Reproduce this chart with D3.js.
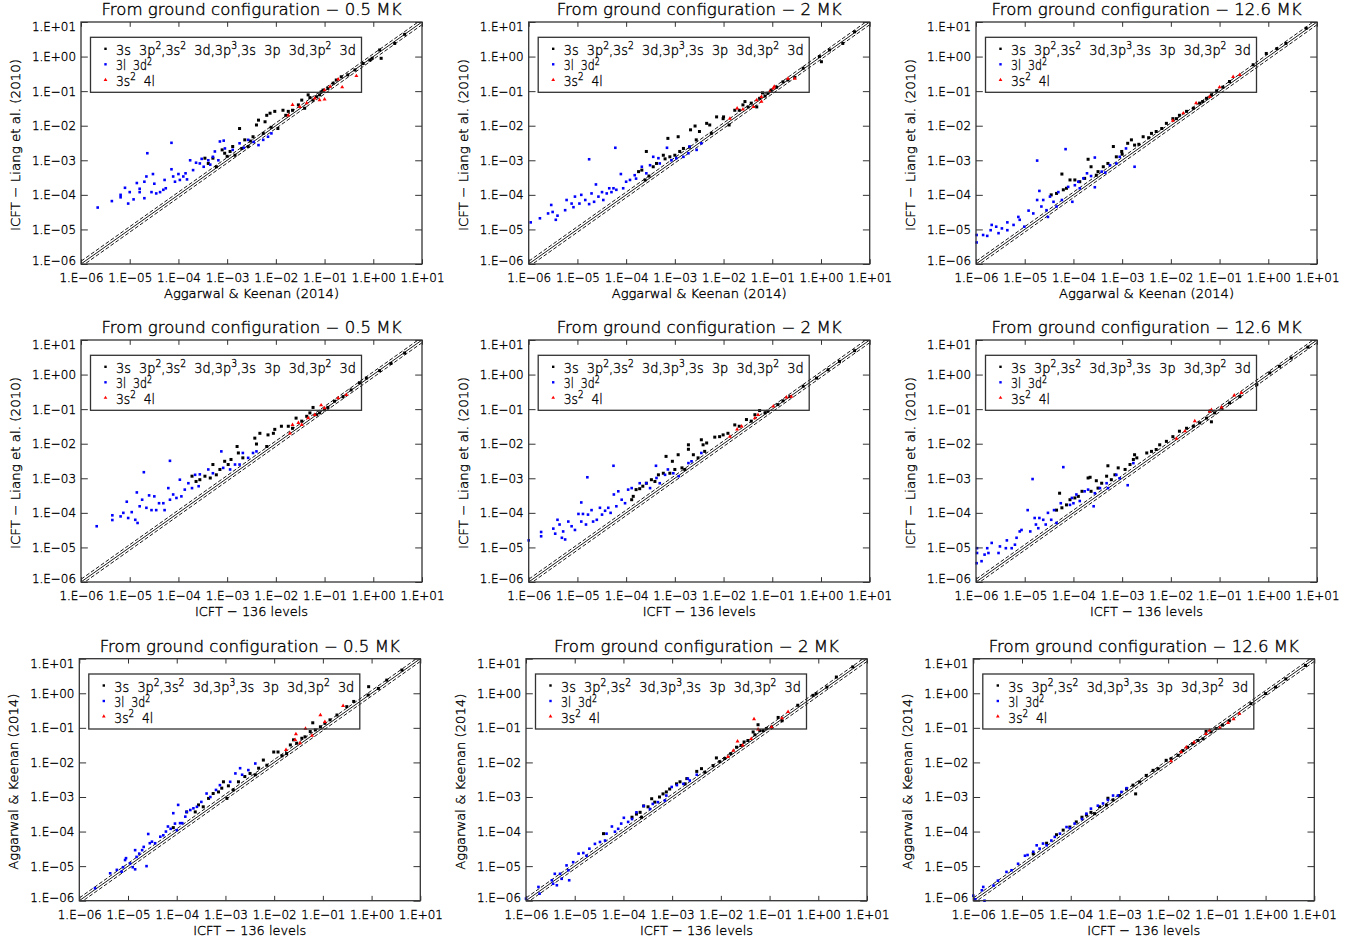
<!DOCTYPE html>
<html><head><meta charset="utf-8">
<script src="https://cdn.jsdelivr.net/npm/d3@7"></script>
<style>
body{margin:0;background:#fff}
svg text{font-family:"DejaVu Sans",sans-serif;fill:#000;font-weight:300;stroke:#000;stroke-width:0.35px}
</style>
</head><body>
<svg id="chart" width="1365" height="944"></svg>
<script>
// ---------------- axis / text data ----------------
const tickValues = [1e-6, 1e-5, 1e-4, 1e-3, 1e-2, 1e-1, 1e0, 1e1];
const tickLabels = ["1.E\u221206","1.E\u221205","1.E\u221204","1.E\u221203","1.E\u221202","1.E\u221201","1.E+00","1.E+01"];
const columnTitles = ["From ground configuration \u2212 0.5 MK","From ground configuration \u2212 2 MK","From ground configuration \u2212 12.6 MK"];
const rowXTitles = ["Aggarwal & Keenan (2014)","ICFT \u2212 136 levels","ICFT \u2212 136 levels"];
const rowYTitles = ["ICFT \u2212 Liang et al. (2010)","ICFT \u2212 Liang et al. (2010)","Aggarwal & Keenan (2014)"];
const seriesNames = ["3s  3p^2,3s^2  3d,3p^3,3s  3p  3d,3p^2  3d","3l  3d^2","3s^2  4l"];
const seriesColors = ["#000000","#0000ff","#ff0000"];
const bandFactor = 1.2;

// ---------------- panel data: [x, y] ----------------
// Row 1, 0.5 MK
const p1Black = [[3.5e-4,1.15e-3],[4.1e-4,8.1e-4],[5.1e-4,1.15e-3],[6e-4,6.5e-4],[7.9e-4,2e-3],[8.9e-4,1.6e-3],[1.15e-3,1.8e-3],[1.3e-3,2.5e-3],[1.45e-3,1.4e-3],[1.8e-3,8.3e-3],[2.3e-3,3.9e-3],[2.7e-3,2.5e-3],[3.4e-3,4.8e-3],[4e-3,1.05e-2],[4.4e-3,1.45e-2],[5.5e-3,6e-3],[6.5e-3,2.0e-2],[7.6e-3,2.3e-2],[9.5e-3,2.6e-2],[1.1e-2,8.3e-3],[1.4e-2,2.8e-2],[1.8e-2,2.6e-2],[2.2e-2,2.8e-2],[2.9e-2,4e-2],[3.4e-2,5.5e-2],[3.9e-2,3.2e-2],[4.6e-2,7.8e-2],[5.8e-2,5.5e-2],[6.8e-2,6.9e-2],[7.9e-2,7.8e-2],[9.3e-2,1.07e-1],[1.17e-1,1.2e-1],[1.5e-1,1.7e-1],[1.74e-1,2.1e-1],[2.2e-1,2.6e-1],[3e-1,2.95e-1],[4.2e-1,4.1e-1],[6.2e-1,6.3e-1],[8.5e-1,7.9e-1],[9.5e-1,8.9e-1],[1.35,1.55],[1.45,0.89],[2.75,2.4],[4.4,4.4],[1.0e-3,1.3e-3],[2.0e-3,2.2e-3],[3.0e-3,3.6e-3],[8e-3,9e-3],[6e-3,1.3e-2],[1.6e-2,2e-2],[5e-2,6.5e-2],[8.5e-2,9.5e-2]];
const p1Blue = [[2.2e-6,4.3e-5],[4.3e-6,6.6e-5],[6.5e-6,1.0e-4],[6.5e-6,8.5e-5],[8e-6,1.6e-4],[9.3e-6,5.6e-5],[1.0e-5,1.2e-4],[1.2e-5,7.4e-5],[1.4e-5,2.2e-4],[1.6e-5,1.2e-4],[1.6e-5,1.5e-4],[2.0e-5,8e-5],[2.3e-5,1.6e-3],[2.0e-5,2.4e-4],[2.2e-5,3.4e-4],[2.8e-5,1.2e-4],[3.0e-5,4e-4],[3.2e-5,2.1e-4],[3.5e-5,1.1e-4],[4.2e-5,1.2e-4],[4.9e-5,1.4e-4],[5.5e-5,1.55e-4],[5.2e-5,2.7e-4],[7.2e-5,3.2e-3],[7.2e-5,5.5e-4],[7.8e-5,3.4e-4],[8.5e-5,2.4e-4],[1.0e-4,4e-4],[1.07e-4,2.7e-4],[1.26e-4,3.4e-4],[1.4e-4,4.2e-4],[1.74e-4,1.0e-3],[2.0e-4,5.2e-4],[2.3e-4,8.5e-4],[2.75e-4,8.1e-4],[3.3e-4,6.5e-4],[4.1e-4,1.0e-3],[5.1e-4,1.26e-3],[5.6e-4,1.8e-3],[6.6e-4,1.0e-3],[7.1e-4,3.5e-3],[8.5e-4,3.7e-3],[1.3e-3,2.0e-3],[1.8e-3,3.1e-3],[2.7e-3,3.9e-3],[4.4e-3,2.75e-3],[5.5e-3,3.9e-3],[6.9e-3,4.8e-3],[8.1e-3,6.0e-3],[1.5e-4,2.8e-4],[3e-4,1.1e-3],[4.5e-4,7.5e-4],[9e-4,2.2e-3],[2.2e-3,2.3e-3],[3.5e-3,3.4e-3]];
const p1Red = [[1.8e-2,2.0e-2],[2.2e-2,4e-2],[3.1e-2,3.5e-2],[4.3e-2,4.5e-2],[6.3e-2,6.2e-2],[7.9e-2,5.5e-2],[1.0e-1,5.8e-2],[1.3e-1,1.35e-1],[1.9e-1,2.2e-1],[2.3e-1,1.3e-1],[4.5e-1,2.75e-1],[1e-1,1.07e-1]];
// Row 1, 2 MK
const p2Black = [[1.8e-4,4.7e-4],[2.1e-4,5.2e-4],[2.6e-4,1.8e-3],[2.45e-4,2.7e-4],[2.95e-4,3.5e-4],[3.6e-4,6.5e-4],[4.2e-4,8.1e-4],[5.8e-4,1.4e-3],[7.2e-4,4.3e-3],[7.9e-4,1.26e-3],[1.0e-3,1.4e-3],[1.17e-3,4.8e-3],[1.26e-3,1.8e-3],[1.5e-3,2.2e-3],[2.1e-3,7.6e-3],[2.6e-3,9.8e-3],[2.75e-3,3.9e-3],[3.2e-3,6.8e-3],[4.5e-3,1.17e-2],[5.2e-3,1.05e-2],[5.6e-3,6e-3],[7.2e-3,1.8e-2],[9.8e-3,1.6e-2],[1.3e-2,1.05e-2],[1.7e-2,2.8e-2],[2.1e-2,2.8e-2],[2.75e-2,5e-2],[3.2e-2,3.5e-2],[3.7e-2,4.5e-2],[4.8e-2,3.5e-2],[5.5e-2,6.2e-2],[7.1e-2,7.2e-2],[8.1e-2,8.7e-2],[9.5e-2,1.07e-1],[1.23e-1,1.3e-1],[1.66e-1,1.86e-1],[2.1e-1,2.1e-1],[2.9e-1,2.5e-1],[4.3e-1,4.6e-1],[9.3e-1,1.0],[1.02,0.71],[1.5,1.55],[2.8,2.4],[4.9,5.2],[6.3e-4,1.1e-3],[2.0e-3,2.4e-3],[1.0e-2,1.8e-2],[2.5e-2,4e-2],[6.3e-2,8.9e-2]];
const p2Blue = [[1.1e-6,1.6e-5],[1.7e-6,2.1e-5],[2.5e-6,2.9e-5],[2.9e-6,5.1e-5],[3.1e-6,3.2e-5],[3.6e-6,1.9e-5],[3.9e-6,2.5e-5],[5.6e-6,3.6e-5],[6e-6,7.1e-5],[7.6e-6,5.6e-5],[8.3e-6,4.4e-5],[8.9e-6,8.9e-5],[1.1e-5,5.6e-5],[1.2e-5,1.0e-4],[1.45e-5,7.1e-5],[1.74e-5,1.07e-3],[1.74e-5,5.4e-5],[1.95e-5,1.1e-4],[2.2e-5,6.3e-5],[2.4e-5,2.0e-4],[2.7e-5,8.9e-5],[3.2e-5,1.2e-4],[3.4e-5,7.1e-5],[4e-5,1.1e-4],[4.5e-5,1.55e-4],[5e-5,1.2e-4],[5.5e-5,1.55e-4],[6e-5,2.3e-3],[6.3e-5,1.4e-4],[7.8e-5,4e-4],[8.7e-5,1.55e-4],[1.0e-4,2.4e-4],[1.2e-4,2.7e-4],[1.5e-4,3.7e-4],[1.6e-4,2.95e-4],[2.1e-4,6.5e-4],[2.6e-4,4.2e-4],[3.1e-4,7.2e-4],[3.6e-4,1.26e-3],[4.6e-4,1.15e-3],[4.9e-4,8.1e-4],[6.9e-4,2.3e-3],[8.5e-4,1.0e-3],[1.07e-3,1.15e-3],[1.5e-3,1.26e-3],[1.9e-3,1.6e-3],[2.0e-3,2.5e-3],[2.8e-3,2.0e-3],[3.5e-3,3.1e-3]];
const p2Red = [[1.35e-2,1.6e-2],[1.9e-2,3.2e-2],[2.5e-2,3e-2],[4.1e-2,3.5e-2],[4.8e-2,5.5e-2],[6e-2,6.9e-2],[8.9e-2,9.5e-2],[1.05e-1,1.2e-1],[1.1e-1,1.35e-1],[2.1e-1,2.3e-1],[2.9e-1,2.3e-1],[6e-2,5e-2]];
// Row 1, 12.6 MK
const p3Black = [[3.5e-5,1.0e-4],[4.5e-5,1.1e-4],[5.8e-5,4e-4],[6.2e-5,1.4e-4],[7.2e-5,1.55e-4],[8.5e-5,2.7e-4],[1.07e-4,2.7e-4],[1.35e-4,2.4e-4],[1.7e-4,3e-4],[2e-4,1.07e-3],[2.3e-4,6.5e-4],[2.95e-4,3.7e-4],[3.2e-4,4.7e-4],[4.1e-4,6.5e-4],[5.1e-4,8.1e-4],[6.6e-4,2.5e-3],[7.6e-4,1.26e-3],[9.8e-4,1.8e-3],[1.3e-3,3.1e-3],[1.55e-3,3.9e-3],[1.8e-3,2.75e-3],[2.7e-3,4.8e-3],[4e-3,6e-3],[5e-3,6.8e-3],[6.5e-3,8.3e-3],[8.1e-3,1.17e-2],[1.1e-2,1.6e-2],[1.5e-2,2.0e-2],[2.1e-2,2.6e-2],[2.9e-2,3.2e-2],[3.9e-2,4.5e-2],[5.4e-2,6.2e-2],[6.8e-2,7.8e-2],[8.7e-2,1.02e-1],[1.17e-1,1.3e-1],[1.6e-1,1.9e-1],[4.9e-1,5.8e-1],[9.1e-1,1.23],[1.5,1.7],[2.3,2.4],[6,6.6],[1.0e-3,1.5e-3],[2.2e-3,2.9e-3],[3.5e-3,4.5e-3],[1.3e-2,1.6e-2],[4.5e-2,5e-2]];
const p3Blue = [[1.03e-6,4.2e-6],[1.03e-6,6.9e-6],[1.4e-6,6.9e-6],[1.7e-6,6.5e-6],[2e-6,9.5e-6],[2.1e-6,1.35e-5],[2.6e-6,1.2e-5],[2.9e-6,7.8e-6],[3.4e-6,1.07e-5],[4.4e-6,1.6e-5],[4.4e-6,9.5e-6],[5.9e-6,1.35e-5],[7.4e-6,2.3e-5],[7.9e-6,1.9e-5],[9.8e-6,1.2e-5],[1.2e-5,3.5e-5],[1.5e-5,2.9e-5],[1.8e-5,9.8e-4],[2e-5,1.3e-4],[1.8e-5,7.1e-5],[2.2e-5,4.6e-5],[2.4e-5,7.1e-5],[2.8e-5,3.6e-5],[3e-5,2.3e-5],[3.3e-5,8.9e-5],[3.9e-5,6.3e-5],[4.5e-5,4.6e-5],[4.9e-5,1.2e-4],[5.8e-5,7.1e-5],[6.9e-5,2.1e-3],[7.8e-5,1.7e-4],[9.5e-5,6.3e-5],[1.07e-4,1.9e-4],[1.26e-4,2.4e-4],[1.35e-4,1.55e-4],[1.6e-4,3e-4],[1.9e-4,4.2e-4],[2.3e-4,3.5e-4],[2.75e-4,1.2e-3],[2.75e-4,1.66e-4],[3.8e-4,4.7e-4],[4.5e-4,4.4e-4],[5.6e-4,7.2e-4],[7.6e-4,8.1e-4],[8.9e-4,1.26e-3],[1.2e-3,2.2e-3],[1.8e-3,6.5e-4]];
const p3Red = [[1.1e-2,1.4e-2],[1.8e-2,2.3e-2],[3.3e-2,4.5e-2],[6.3e-2,6.9e-2],[1e-1,1.3e-1],[1.9e-1,2.6e-1],[2.6e-1,2.95e-1]];
// Row 2, 0.5 MK
const p4Black = [[1.9e-4,1.15e-3],[2.3e-4,8.1e-4],[2.75e-4,9.1e-4],[3.5e-4,1.15e-3],[4.5e-4,1.02e-3],[5.1e-4,2.5e-3],[6e-4,1.26e-3],[7.1e-4,1.8e-3],[8.9e-4,3.1e-3],[1.05e-3,2.5e-3],[1.2e-3,3.5e-3],[1.6e-3,8.3e-3],[1.7e-3,5.4e-3],[2.1e-3,3.9e-3],[3.7e-3,1.45e-2],[4e-3,9.8e-3],[4.7e-3,2e-2],[6.5e-3,8.3e-3],[6.9e-3,1.8e-2],[8.9e-3,2e-2],[9.5e-3,2.6e-2],[1.3e-2,3.2e-2],[1.8e-2,3.2e-2],[2.2e-2,2.8e-2],[2.6e-2,5.5e-2],[3.4e-2,4.5e-2],[4.3e-2,6.2e-2],[5e-2,7.8e-2],[5.8e-2,1.12e-1],[6.8e-2,6.9e-2],[7.9e-2,7.8e-2],[1e-1,9.5e-2],[1.17e-1,1.12e-1],[1.6e-1,1.7e-1],[2.4e-1,2.3e-1],[3.5e-1,3.6e-1],[5.2e-1,5.8e-1],[7.2e-1,7.9e-1],[1.35,1.3],[2.3,2.1],[4.4,4.2]];
const p4Blue = [[2.1e-6,4.1e-5],[4.4e-6,8.5e-5],[4.4e-6,6.2e-5],[6.5e-6,7.9e-5],[7.4e-6,1e-4],[8.7e-6,2.1e-4],[9.3e-6,7.1e-5],[1.1e-5,1.05e-4],[1.3e-5,6.3e-5],[1.4e-5,3.9e-4],[1.45e-5,5.1e-5],[1.6e-5,1.55e-4],[1.8e-5,2.4e-4],[1.95e-5,1.5e-3],[2.2e-5,1.4e-4],[2.5e-5,3.2e-4],[2.8e-5,1.2e-4],[3.2e-5,3e-4],[3.5e-5,1.2e-4],[4e-5,1.9e-4],[4.9e-5,1.9e-4],[5.2e-5,1.2e-4],[6.2e-5,5.2e-4],[6.7e-5,3.2e-3],[6.7e-5,2.4e-4],[7.8e-5,3.4e-4],[9.1e-5,2.7e-4],[1.07e-4,9.1e-4],[1.15e-4,3e-4],[1.35e-4,4.7e-4],[1.6e-4,7.2e-4],[1.9e-4,5.2e-4],[2.2e-4,1.26e-3],[2.6e-4,5.9e-4],[2.75e-4,1.3e-3],[4.1e-4,1.8e-3],[5.1e-4,1.4e-3],[7.6e-4,6e-3],[8.3e-4,2e-3],[1.15e-3,1.8e-3],[1.45e-3,2.5e-3],[1.8e-3,2.5e-3],[2.1e-3,5.4e-3],[2.7e-3,3.9e-3],[3.4e-3,5.4e-3],[4e-3,6e-3]];
const p4Red = [[1.95e-2,2e-2],[2.2e-2,3.5e-2],[2.9e-2,4e-2],[3.4e-2,3.5e-2],[4.6e-2,5.5e-2],[6.3e-2,6.9e-2],[8.5e-2,1.3e-1],[1e-1,1.07e-1],[1.9e-1,2.1e-1],[2.8e-1,2.6e-1]];
// Row 2, 2 MK
const p5Black = [[1.3e-4,2.4e-4],[1.4e-4,3e-4],[1.6e-4,4.7e-4],[1.9e-4,5e-4],[2.2e-4,5.9e-4],[2.6e-4,7.2e-4],[3.3e-4,9.1e-4],[3.9e-4,8.1e-4],[4.6e-4,1.26e-3],[5.8e-4,1.4e-3],[6.6e-4,4.3e-3],[7.9e-4,1.4e-3],[8.9e-4,3.1e-3],[1e-3,1.8e-3],[1.17e-3,4.8e-3],[1.4e-3,2e-3],[1.6e-3,1.8e-3],[1.9e-3,9.3e-3],[1.9e-3,6.9e-3],[2.4e-3,4.8e-3],[3e-3,3.9e-3],[3.5e-3,1.3e-2],[3.8e-3,9.3e-3],[4.5e-3,1.05e-2],[4.1e-3,6e-3],[6.6e-3,1.55e-2],[8.3e-3,1.6e-2],[9.8e-3,1.8e-2],[1.23e-2,2e-2],[1.7e-2,3.5e-2],[2.1e-2,3.2e-2],[2.95e-2,5e-2],[3.7e-2,4.5e-2],[4.4e-2,6.9e-2],[5.5e-2,9.1e-2],[7.1e-2,7.8e-2],[8.1e-2,8.7e-2],[1.3e-1,1.35e-1],[1.66e-1,1.74e-1],[2.3e-1,2.3e-1],[4.3e-1,4.6e-1],[8.1e-1,7.9e-1],[1.4,1.38],[2.4,2.4],[4.9,4.9]];
const p5Blue = [[1.0e-6,1.6e-5],[1.8e-6,2.8e-5],[1.8e-6,2.1e-5],[3.2e-6,3.5e-5],[3.5e-6,2.5e-5],[3.9e-6,6.3e-5],[4.3e-6,4.6e-5],[4.8e-6,1.9e-5],[5.1e-6,2.9e-5],[5.6e-6,1.7e-5],[6.5e-6,5.6e-5],[7.6e-6,4.1e-5],[8.9e-6,3.2e-5],[1.05e-5,9.3e-5],[1.2e-5,2e-4],[1.2e-5,5.6e-5],[1.3e-5,9.3e-5],[1.5e-5,4.6e-5],[1.6e-5,1.07e-3],[1.65e-5,8.9e-5],[1.95e-5,1.2e-4],[2.1e-5,5.6e-5],[2.5e-5,6.3e-5],[2.9e-5,1.4e-4],[3.2e-5,8.9e-5],[3.7e-5,1.15e-4],[4.3e-5,1.4e-4],[4.8e-5,1e-4],[5.5e-5,2.3e-3],[5.6e-5,3.4e-4],[6.3e-5,1.55e-4],[6.9e-5,4.2e-4],[8.1e-5,2.4e-4],[9.5e-5,1.9e-4],[1.1e-4,4.7e-4],[1.3e-4,5.2e-4],[1.9e-4,7.2e-4],[2.6e-4,7.2e-4],[3.1e-4,5.2e-4],[4.1e-4,2.3e-3],[4.2e-4,1.02e-3],[4.9e-4,7.2e-4],[6.3e-4,1.26e-3],[7.2e-4,1.8e-3],[9.3e-4,1.4e-3],[1.2e-3,1.15e-3],[1.9e-3,2.75e-3],[2.2e-3,3.1e-3],[3.5e-3,5.4e-3]];
const p5Red = [[1.35e-2,1.6e-2],[1.9e-2,2.6e-2],[2.35e-2,3.2e-2],[4.4e-2,5.5e-2],[5.1e-2,6.9e-2],[1.05e-1,1.2e-1],[1.95e-1,2.2e-1],[2.45e-1,2.3e-1]];
// Row 2, 12.6 MK
const p6Black = [[4.5e-5,1.2e-4],[5.2e-5,3.7e-4],[5.8e-5,1.4e-4],[7.2e-5,1.7e-4],[8.5e-5,2.4e-4],[1.07e-4,2.7e-4],[1.26e-4,3e-4],[1.5e-4,4.2e-4],[2e-4,1.02e-3],[2.2e-4,1.07e-3],[2.3e-4,4.2e-4],[2.95e-4,8.5e-4],[3.2e-4,5.2e-4],[3.8e-4,7.2e-4],[4.8e-4,1.15e-3],[5.1e-4,2.3e-3],[6e-4,9.1e-4],[7.1e-4,1.26e-3],[8.3e-4,2e-3],[1.15e-3,1.8e-3],[1.45e-3,2.5e-3],[1.7e-3,3.5e-3],[1.8e-3,4.8e-3],[2e-3,3.9e-3],[3.2e-3,5.4e-3],[4e-3,6e-3],[5e-3,6.8e-3],[5.9e-3,9.3e-3],[8.1e-3,1.17e-2],[1.1e-2,1.6e-2],[1.5e-2,2.3e-2],[2.1e-2,2.8e-2],[2.9e-2,3.2e-2],[3.9e-2,4e-2],[5.4e-2,5.5e-2],[6.8e-2,4.3e-2],[6.3e-2,8.7e-2],[7.9e-2,7.8e-2],[1.1e-1,1.07e-1],[1.6e-1,1.5e-1],[2.6e-1,2.3e-1],[5.8e-1,5.1e-1],[1.07,1.12],[1.7,1.74],[2.95,3],[6.5,6.2]];
const p6Blue = [[1.03e-6,3.5e-6],[1.05e-6,9.5e-6],[1.05e-6,6.9e-6],[1.3e-6,4e-6],[1.5e-6,6.2e-6],[1.7e-6,9.5e-6],[1.8e-6,6.9e-6],[2.1e-6,1.35e-5],[2.9e-6,6.9e-6],[3.1e-6,1.07e-5],[4.3e-6,1.6e-5],[4.1e-6,9.5e-6],[5.4e-6,9.5e-6],[6.3e-6,1.2e-5],[6.8e-6,1.9e-5],[7.9e-6,2.9e-5],[8.6e-6,3.2e-5],[1.15e-5,1.2e-4],[1.3e-5,2.9e-5],[1.45e-5,9.5e-4],[1.6e-5,7.1e-5],[1.7e-5,4.6e-5],[1.9e-5,3.6e-5],[2e-5,7.1e-5],[2.4e-5,6.3e-5],[2.7e-5,4.6e-5],[3e-5,1e-4],[3.5e-5,6.3e-5],[4e-5,1.2e-4],[4.5e-5,5.1e-5],[5.5e-5,1.9e-4],[6.2e-5,2.1e-3],[8.5e-5,1.7e-4],[9.3e-5,2.7e-4],[1e-4,1.9e-4],[1.15e-4,3.4e-4],[1.35e-4,2.2e-4],[1.7e-4,4.2e-4],[2e-4,4.7e-4],[2.6e-4,1.55e-4],[2.75e-4,3.7e-4],[3.5e-4,5.2e-4],[4.8e-4,7.2e-4],[5.1e-4,5.2e-4],[7.6e-4,1.26e-3],[8.9e-4,1.0e-3],[1.3e-3,6.3e-4],[1.7e-3,2.75e-3]];
const p6Red = [[1.3e-2,1.4e-2],[1.95e-2,2.3e-2],[3.1e-2,4.5e-2],[6.3e-2,8.7e-2],[6.8e-2,9.5e-2],[1.1e-1,1.12e-1],[2e-1,2.5e-1],[2.8e-1,2.95e-1]];
// Row 3, 0.5 MK
const p7Black = [[8.5e-5,1.3e-4],[1.6e-4,3.7e-4],[2.4e-4,3.7e-4],[2.8e-4,5.9e-4],[3.5e-4,5.2e-4],[4.5e-4,9.1e-4],[5.6e-4,1.26e-3],[7.2e-4,1.4e-3],[8.4e-4,1.8e-3],[9.1e-4,2.75e-3],[1.07e-3,9.1e-4],[1.15e-3,2.1e-3],[1.45e-3,1.6e-3],[1.85e-3,2.75e-3],[2.5e-3,3.9e-3],[3.2e-3,4.8e-3],[4.1e-3,4.4e-3],[4.8e-3,6.8e-3],[6e-3,1.17e-2],[7.1e-3,8.3e-3],[9.8e-3,2e-2],[1.2e-2,2e-2],[1.45e-2,1.55e-2],[1.8e-2,1.8e-2],[2.15e-2,3.2e-2],[2.5e-2,4.5e-2],[2.9e-2,3.6e-2],[3.7e-2,5e-2],[4.3e-2,5.5e-2],[5.5e-2,7.8e-2],[6.2e-2,1.4e-1],[7e-2,8.7e-2],[8.9e-2,1.07e-1],[1.1e-1,1.35e-1],[1.4e-1,1.7e-1],[1.95e-1,2.35e-1],[3.1e-1,4.1e-1],[4.3e-1,5.8e-1],[8.7e-1,1.55],[8.5e-1,8.9e-1],[1.38,1.38],[2.05,2.4],[4.2,4.7]];
const p7Blue = [[2.1e-6,2.3e-6],[4.3e-6,6.2e-6],[5.9e-6,7.8e-6],[7.4e-6,6.9e-6],[7.9e-6,9.3e-6],[8.7e-6,1.5e-5],[9.1e-6,1.7e-5],[1.1e-5,1.2e-5],[1.25e-5,9.3e-6],[1.4e-5,8.1e-6],[1.4e-5,2.9e-5],[1.5e-5,1.85e-5],[1.7e-5,2.3e-5],[1.95e-5,2.9e-5],[2.1e-5,3.6e-5],[2.4e-5,1e-5],[2.6e-5,8.5e-5],[2.8e-5,4.6e-5],[3.1e-5,5.1e-5],[3.6e-5,4.6e-5],[4.6e-5,7.1e-5],[5.3e-5,7.8e-5],[6e-5,1e-4],[6.6e-5,1.4e-4],[7.5e-5,1.2e-4],[8.5e-5,3.4e-4],[9.2e-5,1.7e-4],[1e-4,1.1e-4],[1.07e-4,5.9e-4],[1.17e-4,1.75e-4],[1.3e-4,1.75e-4],[1.5e-4,2.7e-4],[1.6e-4,3.7e-4],[1.9e-4,4.2e-4],[2.2e-4,4.7e-4],[2.6e-4,5.2e-4],[3.2e-4,7.2e-4],[4.1e-4,1.26e-3],[4.9e-4,1e-3],[6.4e-4,1.6e-3],[7.7e-4,2.2e-3],[1.25e-3,2.75e-3],[1.6e-3,4.8e-3],[2e-3,6.8e-3],[2.2e-3,4.4e-3],[2.95e-3,6e-3],[4.1e-3,9.3e-3]];
const p7Red = [[1.75e-2,2.3e-2],[2.7e-2,4.5e-2],[2.8e-2,6.6e-2],[3.4e-2,3.6e-2],[4.4e-2,9.5e-2],[6e-2,6e-2],[8.9e-2,2.35e-1],[1.1e-1,1.5e-1],[2.6e-1,4.3e-1]];
// Row 3, 2 MK
const p8Black = [[3.9e-5,8.7e-5],[1.5e-4,2.6e-4],[1.85e-4,3.2e-4],[2.2e-4,3.6e-4],[2.35e-4,2.6e-4],[2.6e-4,5.5e-4],[3.2e-4,5.2e-4],[3.8e-4,8.9e-4],[4.4e-4,7.1e-4],[5.5e-4,1e-3],[6.5e-4,1.23e-3],[7.6e-4,1.4e-3],[8.9e-4,1.7e-3],[1.23e-3,2.4e-3],[1.45e-3,2.75e-3],[1.85e-3,2.4e-3],[2e-3,3.4e-3],[3.2e-3,5.5e-3],[4e-3,6.6e-3],[4.7e-3,5.2e-3],[6.9e-3,8.1e-3],[8.1e-3,1.35e-2],[9.5e-3,1.05e-2],[1.2e-2,1.3e-2],[1.6e-2,1.8e-2],[2.1e-2,2.75e-2],[2.6e-2,3.1e-2],[3e-2,3.9e-2],[3.6e-2,4.3e-2],[4.6e-2,7.6e-2],[5e-2,6.3e-2],[5.8e-2,1.23e-1],[6.3e-2,8.3e-2],[7.4e-2,8.3e-2],[8.6e-2,9.5e-2],[1.1e-1,1.05e-1],[1.5e-1,2e-1],[1.8e-1,1.6e-1],[3.8e-1,4.5e-1],[7.8e-1,8.7e-1],[9e-1,9.7e-1],[1.5,1.5],[2.35,2.95],[5.1,5.8]];
const p8Blue = [[1e-6,1.15e-6],[1.8e-6,2.5e-6],[1.9e-6,1.6e-6],[3.4e-6,3.9e-6],[3.6e-6,3.1e-6],[3.9e-6,6e-6],[4.3e-6,2.8e-6],[5e-6,6e-6],[5.4e-6,4.3e-6],[6.8e-6,1.05e-5],[7.4e-6,7.6e-6],[7.7e-6,3.9e-6],[9.3e-6,1.3e-5],[1.2e-5,2.3e-5],[1.5e-5,2.4e-5],[1.75e-5,2e-5],[2e-5,3.2e-5],[2.6e-5,4.4e-5],[3.3e-5,5e-5],[4.2e-5,5.5e-5],[4.5e-5,8.7e-5],[5.8e-5,1.4e-4],[6.7e-5,9.9e-5],[7.8e-5,1.2e-4],[9e-5,1.7e-4],[1.02e-4,2.5e-4],[1.25e-4,1.9e-4],[1.5e-4,2.3e-4],[1.85e-4,3.6e-4],[2.6e-4,5.5e-4],[3.5e-4,4.5e-4],[4e-4,6.3e-4],[5.1e-4,7.1e-4],[7.1e-4,7.9e-4],[7.6e-4,1.1e-3],[9.8e-4,1.95e-3],[1.25e-3,2.2e-3],[1.7e-3,2.4e-3],[2.1e-3,3.4e-3],[2.3e-3,3e-3],[3.2e-3,4.4e-3]];
const p8Red = [[1.4e-2,1.45e-2],[1.8e-2,2.2e-2],[2.2e-2,4.1e-2],[2.8e-2,3.1e-2],[4.2e-2,4.8e-2],[4.8e-2,1.8e-1],[5.8e-2,9.1e-2],[1.1e-1,1.05e-1],[2.4e-1,2.9e-1],[1.8e-1,1.9e-1]];
// Row 3, 12.6 MK
const p9Black = [[1.7e-5,2.3e-5],[3.2e-5,4.6e-5],[5.1e-5,8.1e-5],[7e-5,1.1e-4],[9.6e-5,1.35e-4],[1.3e-4,1.9e-4],[1.7e-4,2.6e-4],[2.1e-4,3e-4],[2.6e-4,3.6e-4],[3.1e-4,3.3e-4],[3.9e-4,5.2e-4],[5.4e-4,5.8e-4],[5.8e-4,9.2e-4],[7.4e-4,8.2e-4],[1e-3,1.1e-3],[1.4e-3,1.7e-3],[1.9e-3,2.2e-3],[2.15e-3,1.23e-3],[2.6e-3,2.75e-3],[3.55e-3,4.2e-3],[4.9e-3,5.9e-3],[6.2e-3,6.6e-3],[9.1e-3,1.15e-2],[1.15e-2,1.28e-2],[1.6e-2,1.6e-2],[2e-2,2.2e-2],[2.5e-2,2.75e-2],[3.2e-2,3.5e-2],[4.1e-2,4.3e-2],[5.2e-2,4.8e-2],[6e-2,7.9e-2],[7.6e-2,7.6e-2],[9.6e-2,9.5e-2],[1.3e-1,1.2e-1],[1.8e-1,1.6e-1],[5e-1,5e-1],[1.0,9.8e-1],[1.6,1.5],[2.6,2.6],[6.6,6.4]];
const p9Blue = [[1e-6,1.4e-6],[1.1e-6,1.1e-6],[1.5e-6,2e-6],[1.6e-6,2.5e-6],[1.7e-6,1e-6],[2.6e-6,2.75e-6],[3.2e-6,3.8e-6],[4.8e-6,6.8e-6],[6.1e-6,7.6e-6],[8.3e-6,1.17e-5],[1.15e-5,2e-5],[1.3e-5,2.1e-5],[1.7e-5,2.6e-5],[2e-5,4e-5],[2.3e-5,3.2e-5],[2.7e-5,4.5e-5],[3.2e-5,4e-5],[4e-5,5.5e-5],[4.7e-5,7e-5],[6e-5,8.7e-5],[8.2e-5,1.35e-4],[9.6e-5,1.25e-4],[1.2e-4,1.7e-4],[1.7e-4,2.3e-4],[2.1e-4,3.3e-4],[2.6e-4,4.6e-4],[3.6e-4,5.6e-4],[4.6e-4,6.5e-4],[5.8e-4,8.2e-4],[7.4e-4,1.1e-3],[9.3e-4,1.1e-3],[1.1e-3,1.4e-3],[1.4e-3,1.8e-3]];
const p9Red = [[1.15e-2,1.1e-2],[1.85e-2,2e-2],[2.35e-2,2.75e-2],[3.4e-2,3.8e-2],[6e-2,6.7e-2],[7e-2,8.4e-2],[1.15e-1,1e-1],[1.7e-1,1.4e-1],[2.2e-1,1.8e-1],[2.9e-1,2.6e-1]];

const panelSeries = [
  [p1Black,p1Blue,p1Red],[p2Black,p2Blue,p2Red],[p3Black,p3Blue,p3Red],
  [p4Black,p4Blue,p4Red],[p5Black,p5Blue,p5Red],[p6Black,p6Blue,p6Red],
  [p7Black,p7Blue,p7Red],[p8Black,p8Blue,p8Red],[p9Black,p9Blue,p9Red]
];

// ---------------- layout ----------------
const rowTops = [22, 340, 658.7];
const colLefts = [[81, 528.7, 976],[81, 528.7, 976],[79.3, 526, 973.3]];
const plotW = 341, plotH = 242;
const titleLengths = [300, 285, 310];
const xTitleLengths = [175, 113, 113];
const yTitleLengths = [172, 172, 176];
const legendLengths = [240, 36, 39];

const svg = d3.select("#chart");
const defs = svg.append("defs");

function drawPanel(row, col, idx) {
  const left = colLefts[row][col], top = rowTops[row];
  const x = d3.scaleLog().domain([1e-6, 1e1]).range([left, left + plotW]);
  const y = d3.scaleLog().domain([1e-6, 1e1]).range([top + plotH, top]);
  const g = svg.append("g");

  const clipId = "clip" + idx;
  defs.append("clipPath").attr("id", clipId).append("rect")
    .attr("x", left).attr("y", top).attr("width", plotW).attr("height", plotH);

  // title
  g.append("text").attr("x", left + plotW / 2).attr("y", top - 7)
    .attr("text-anchor", "middle").attr("font-size", 15)
    .attr("textLength", titleLengths[col]).attr("lengthAdjust", "spacingAndGlyphs")
    .text(columnTitles[col]);

  // diagonal lines
  const lineGen = d3.line().x(d => x(d[0])).y(d => y(d[1]));
  const lg = g.append("g").attr("clip-path", `url(#${clipId})`);
  const ends = [1e-7, 1e2];
  lg.append("path").attr("d", lineGen(ends.map(v => [v, v])))
    .attr("stroke", "#000").attr("stroke-width", 0.9).attr("fill", "none");
  [bandFactor, 1 / bandFactor].forEach(f => {
    lg.append("path").attr("d", lineGen(ends.map(v => [v, v * f])))
      .attr("stroke", "#000").attr("stroke-width", 0.9).attr("fill", "none")
      .attr("stroke-dasharray", "4,2");
  });

  // points
  const [blk, blu, red] = panelSeries[idx];
  g.append("g").selectAll("rect").data(blk).join("rect")
    .attr("x", d => x(d[0]) - 1.5).attr("y", d => y(d[1]) - 1.5)
    .attr("width", 3).attr("height", 3).attr("fill", seriesColors[0]);
  g.append("g").selectAll("rect").data(blu).join("rect")
    .attr("x", d => x(d[0]) - 1.3).attr("y", d => y(d[1]) - 1.3)
    .attr("width", 2.6).attr("height", 2.6).attr("fill", seriesColors[1]);
  const tri = d3.symbol().type(d3.symbolTriangle).size(7);
  g.append("g").selectAll("path").data(red).join("path")
    .attr("transform", d => `translate(${x(d[0])},${y(d[1])})`)
    .attr("d", tri()).attr("fill", seriesColors[2]);

  // axes
  const axStyle = sel => {
    sel.select(".domain").remove();
    sel.selectAll(".tick line").attr("stroke", "#333").attr("stroke-width", 1);
    sel.attr("font-family", "DejaVu Sans").attr("font-size", 12.5).attr("color", "#000");
  };
  const bottom = g.append("g").attr("transform", `translate(0,${top + plotH})`)
    .call(d3.axisBottom(x).tickValues(tickValues).tickFormat((d, i) => tickLabels[i])
      .tickSizeInner(-plotH * 0.02).tickSizeOuter(0).tickPadding(9.5));
  axStyle(bottom);
  bottom.selectAll("text").attr("textLength", 44).attr("lengthAdjust", "spacingAndGlyphs");
  const topAx = g.append("g").attr("transform", `translate(0,${top})`)
    .call(d3.axisTop(x).tickValues(tickValues).tickFormat("").tickSizeInner(-plotH * 0.02).tickSizeOuter(0));
  axStyle(topAx);
  const leftAx = g.append("g").attr("transform", `translate(${left},0)`)
    .call(d3.axisLeft(y).tickValues(tickValues).tickFormat((d, i) => tickLabels[i])
      .tickSizeInner(-plotW * 0.02).tickSizeOuter(0).tickPadding(5));
  axStyle(leftAx);
  leftAx.selectAll("text").attr("textLength", 44).attr("lengthAdjust", "spacingAndGlyphs")
    .attr("y", (d, i) => i === 0 ? -3.7 : (i === tickValues.length - 1 ? 4.7 : 0));
  const rightAx = g.append("g").attr("transform", `translate(${left + plotW},0)`)
    .call(d3.axisRight(y).tickValues(tickValues).tickFormat("").tickSizeInner(-plotW * 0.02).tickSizeOuter(0));
  axStyle(rightAx);

  // frame
  g.append("rect").attr("x", left).attr("y", top).attr("width", plotW).attr("height", plotH)
    .attr("fill", "none").attr("stroke", "#333").attr("stroke-width", 1.3);

  // axis titles
  g.append("text").attr("x", left + plotW / 2).attr("y", top + plotH + 34)
    .attr("text-anchor", "middle").attr("font-size", 13)
    .attr("textLength", xTitleLengths[row]).attr("lengthAdjust", "spacingAndGlyphs")
    .text(rowXTitles[row]);
  g.append("text").attr("transform", `translate(${left - 61},${top + plotH / 2 + 2}) rotate(-90)`)
    .attr("text-anchor", "middle").attr("font-size", 13)
    .attr("textLength", yTitleLengths[row]).attr("lengthAdjust", "spacingAndGlyphs")
    .text(rowYTitles[row]);

  // legend
  const bx = left + 9.5, by = top + 15.3;
  const leg = g.append("g");
  leg.append("rect").attr("x", bx).attr("y", by).attr("width", 271).attr("height", 55)
    .attr("fill", "none").attr("stroke", "#333").attr("stroke-width", 1.3);
  seriesNames.forEach((name, i) => {
    const base = by + 17.5 + i * 15.5;
    const sx = bx + 15, sy = base - 6;
    if (i === 2) {
      leg.append("path").attr("transform", `translate(${sx},${sy})`)
        .attr("d", d3.symbol().type(d3.symbolTriangle).size(6)()).attr("fill", seriesColors[i]);
    } else {
      leg.append("rect").attr("x", sx - 1.2).attr("y", sy - 1.2).attr("width", 2.4).attr("height", 2.4)
        .attr("fill", seriesColors[i]);
    }
    const t = leg.append("text").attr("x", bx + 25.5).attr("y", base).attr("font-size", 14)
      .style("white-space", "pre")
      .attr("textLength", legendLengths[i]).attr("lengthAdjust", "spacingAndGlyphs");
    const parts = name.split(/\^(\d)/);
    let pendingDy = 0;
    parts.forEach((p, k) => {
      if (k % 2 === 1) {
        t.append("tspan").attr("font-size", 10).attr("dy", -5.5 + pendingDy).text(p);
        pendingDy = 5.5;
      } else if (p) {
        t.append("tspan").attr("dy", pendingDy).text(p);
        pendingDy = 0;
      }
    });
  });
}

let idx = 0;
for (let r = 0; r < 3; r++) for (let c = 0; c < 3; c++) drawPanel(r, c, idx++);
</script>
</body></html>
